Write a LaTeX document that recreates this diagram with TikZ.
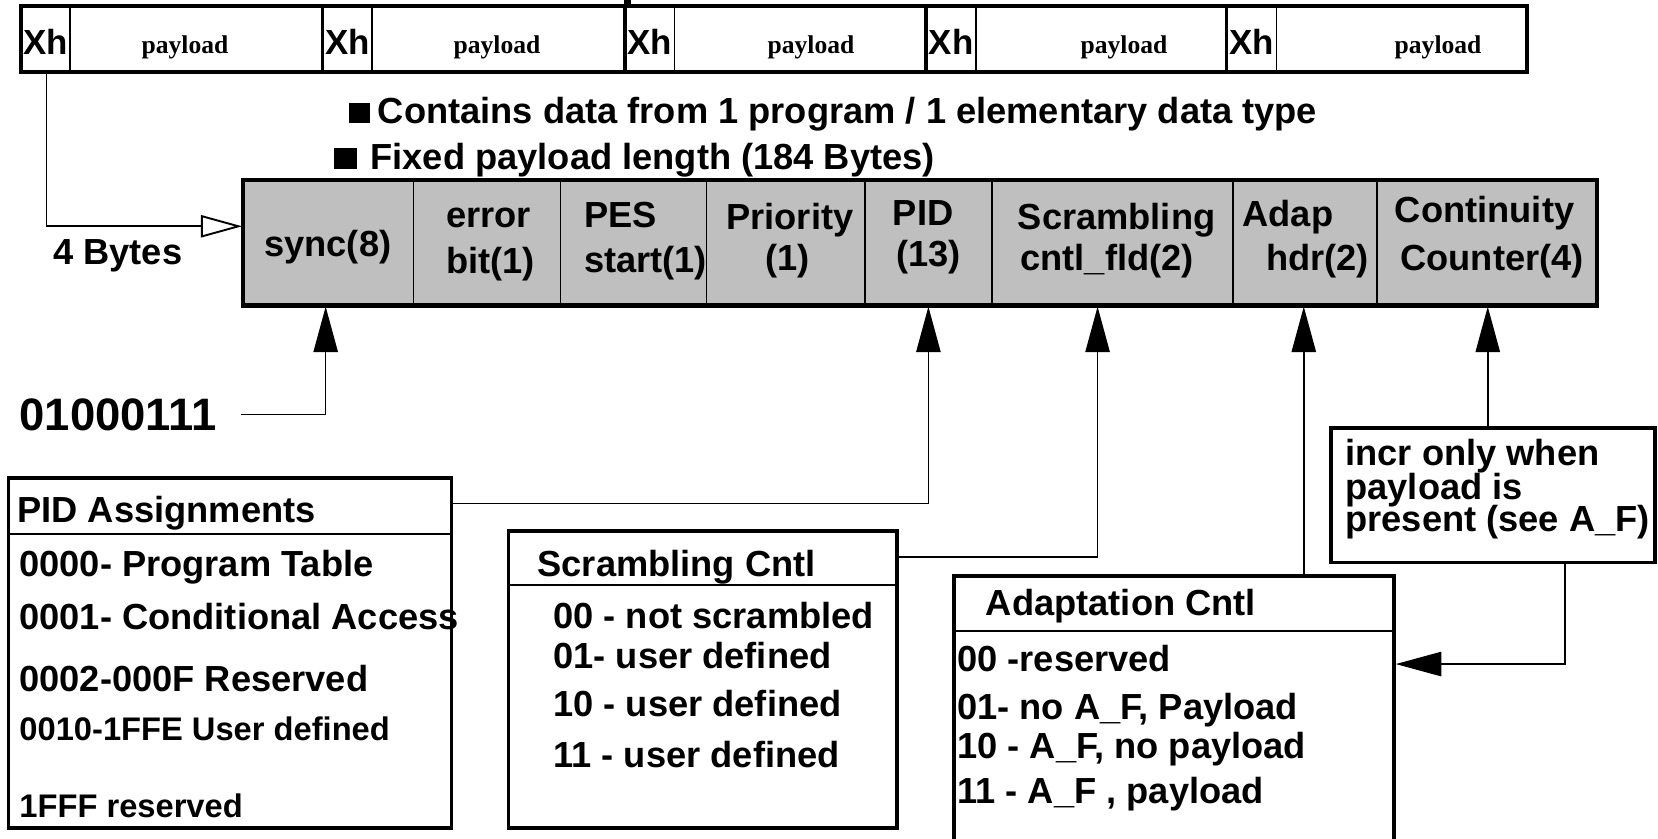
\documentclass[tikz,border=0pt]{standalone}
\usepackage{fontspec}
\setmainfont{Liberation Sans}
\newfontfamily\tms{Liberation Serif}
\usetikzlibrary{arrows.meta,fit}
\definecolor{hdrgray}{gray}{0.75}
\begin{document}
\begin{tikzpicture}[x=0.5pt,y=-0.5pt,
  box/.style={draw, line width=1.75pt, inner sep=0pt, outer sep=0pt},
  hdrbox/.style={box, fill=hdrgray, line width=2pt},
  thin/.style={line width=0.75pt},
  arr/.style={thin, -{Triangle[length=21.5pt,width=11.5pt]}},
  oarr/.style={thin, -{Triangle[open,fill=white,length=19.5pt,width=10.5pt,line width=0.9pt]}},
  t/.style={inner sep=0pt, anchor=base west, font=\bfseries\fontsize{17.15}{20}\selectfont},
  tc/.style={t, anchor=base},
  ts/.style={t, font=\bfseries\fontsize{15.45}{18}\selectfont},
  big/.style={t, font=\bfseries\fontsize{21.5}{24}\selectfont},
  xh/.style={tc, font=\bfseries\fontsize{16.5}{19}\selectfont},
  pl/.style={inner sep=0pt, anchor=base, font=\tms\bfseries\fontsize{12.1}{14}\selectfont},
  blt/.style={fill=black, draw=none, inner sep=0pt}
]
\useasboundingbox (0,0) rectangle (1568,793);
\fill[white] (0,0) rectangle (1568,793);
\clip (0,0) rectangle (1568,793);

% stray mark at top
\fill (590,0) rectangle (597,6);

% top row of packets
\foreach \i/\L/\D/\R/\P in {1/20/66/305/175, 2/305/352/591/470, 3/591/638/876/767, 4/876/923/1160/1063, 5/1160/1207/1444/1360} {
  \node[box, fit={(\L,6) (\R,68)}] (seg\i) {};
  \draw[thin] (\D,6) -- (\D,68);
  \node[xh] (xh\i) at ({(\L+\D)/2},52) {Xh};
  \node[pl] (pl\i) at (\P,51) {payload};
}

% bullets
\node[blt, fit={(330,97) (350,116)}] (b1) {};
\node[t] (bt1) at (357,117) {Contains data from 1 program / 1 elementary data type};
\node[blt, fit={(316,140) (338,160)}] (b2) {};
\node[t] (bt2) at (350,160) {Fixed payload length (184 Bytes)};

% header
\node[hdrbox, fit={(230,170) (1510,289)}] (hdr) {};
\foreach \x in {391,530,668,818,938,1166,1302} \draw[thin] (\x,170) -- (\x,289);
\node[tc] (f1) at (310,243) {sync(8)};
\node[tc] (f2a) at (462,215) {error};
\node[tc] (f2b) at (464,259) {bit(1)};
\node[t] (f3a) at (552,215) {PES};
\node[t] (f3b) at (552,258) {start(1)};
\node[tc] (f4a) at (747,217) {Priority};
\node[tc] (f4b) at (745,256) {(1)};
\node[tc] (f5a) at (873,213) {PID};
\node[tc] (f5b) at (878,252) {(13)};
\node[tc] (f6a) at (1056,217) {Scrambling};
\node[tc] (f6b) at (1047,256) {cntl\_fld(2)};
\node[tc] (f7a) at (1218,214) {Adap};
\node[tc] (f7b) at (1246,256) {hdr(2)};
\node[tc] (f8a) at (1404,210) {Continuity};
\node[tc] (f8b) at (1411,256) {Counter(4)};
\coordinate (hin) at (229,214);
\coordinate (hsync) at (308,290);
\coordinate (hpid) at (878,290);
\coordinate (hscr) at (1038,290);
\coordinate (hadap) at (1233,290);
\coordinate (hcont) at (1407,290);

% 4 Bytes
\node[t] (fourb) at (50,250) {4 Bytes};
\coordinate (xhbot) at (44,68);
\draw[oarr] (xhbot) |- (hin);

% sync value
\node[big] (syncval) at (18,407) {01000111};
\coordinate (syncin) at (228,392);
\draw[arr] (syncin) -| (hsync);

% PID box
\node[box, fit={(8,452) (427,783)}] (pidbox) {};
\draw[thin] (8,505) -- (427,505);
\node[t] (pidt) at (16,494) {PID Assignments};
\node[t] (pid1) at (18,545) {0000- Program Table};
\node[t] (pid2) at (18,595) {0001- Conditional Access};
\node[t] (pid3) at (18,654) {0002-000F Reserved};
\node[ts] (pid4) at (18,700) {0010-1FFE User defined};
\node[ts] (pid5) at (18,773) {1FFF reserved};
\coordinate (pidout) at (427,476);
\draw[arr] (pidout) -| (hpid);

% Scrambling box
\node[box, fit={(481,502) (848,783)}] (scrbox) {};
\draw[thin] (481,553) -- (848,553);
\node[t] (scrt) at (508,545) {Scrambling Cntl};
\node[t] (scr1) at (523,594) {00 - not scrambled};
\node[t] (scr2) at (523,632) {01- user defined};
\node[t] (scr3) at (523,678) {10 - user defined};
\node[t] (scr4) at (523,726) {11 - user defined};
\coordinate (scrout) at (848,527);
\draw[arr] (scrout) -| (hscr);

% Adaptation box
\node[box, fit={(902,545) (1318,840)}] (adbox) {};
\draw[thin] (902,597) -- (1318,597);
\node[t] (adt) at (932,582) {Adaptation Cntl};
\node[t] (ad1) at (905,635) {00 -reserved};
\node[t] (ad2) at (905,680) {01- no A\_F, Payload};
\node[t] (ad3) at (905,717) {10 - A\_F, no payload};
\node[t] (ad4) at (905,760) {11 - A\_F , payload};
\coordinate (adout) at (1233,545);
\draw[arr] (adout) -- (hadap);

% incr box
\node[box, fit={(1259,405) (1565,532)}] (incr) {};
\node[t] (in1) at (1272,440) {incr only when};
\node[t] (in2) at (1272,472) {payload is};
\node[t] (in3) at (1272,503) {present (see A\_F)};
\coordinate (incrtop) at (1407,405);
\coordinate (incrbot) at (1480,532);
\coordinate (adin) at (1320,628);
\draw[arr] (incrtop) -- (hcont);
\draw[arr] (incrbot) |- (adin);
\end{tikzpicture}
\end{document}
